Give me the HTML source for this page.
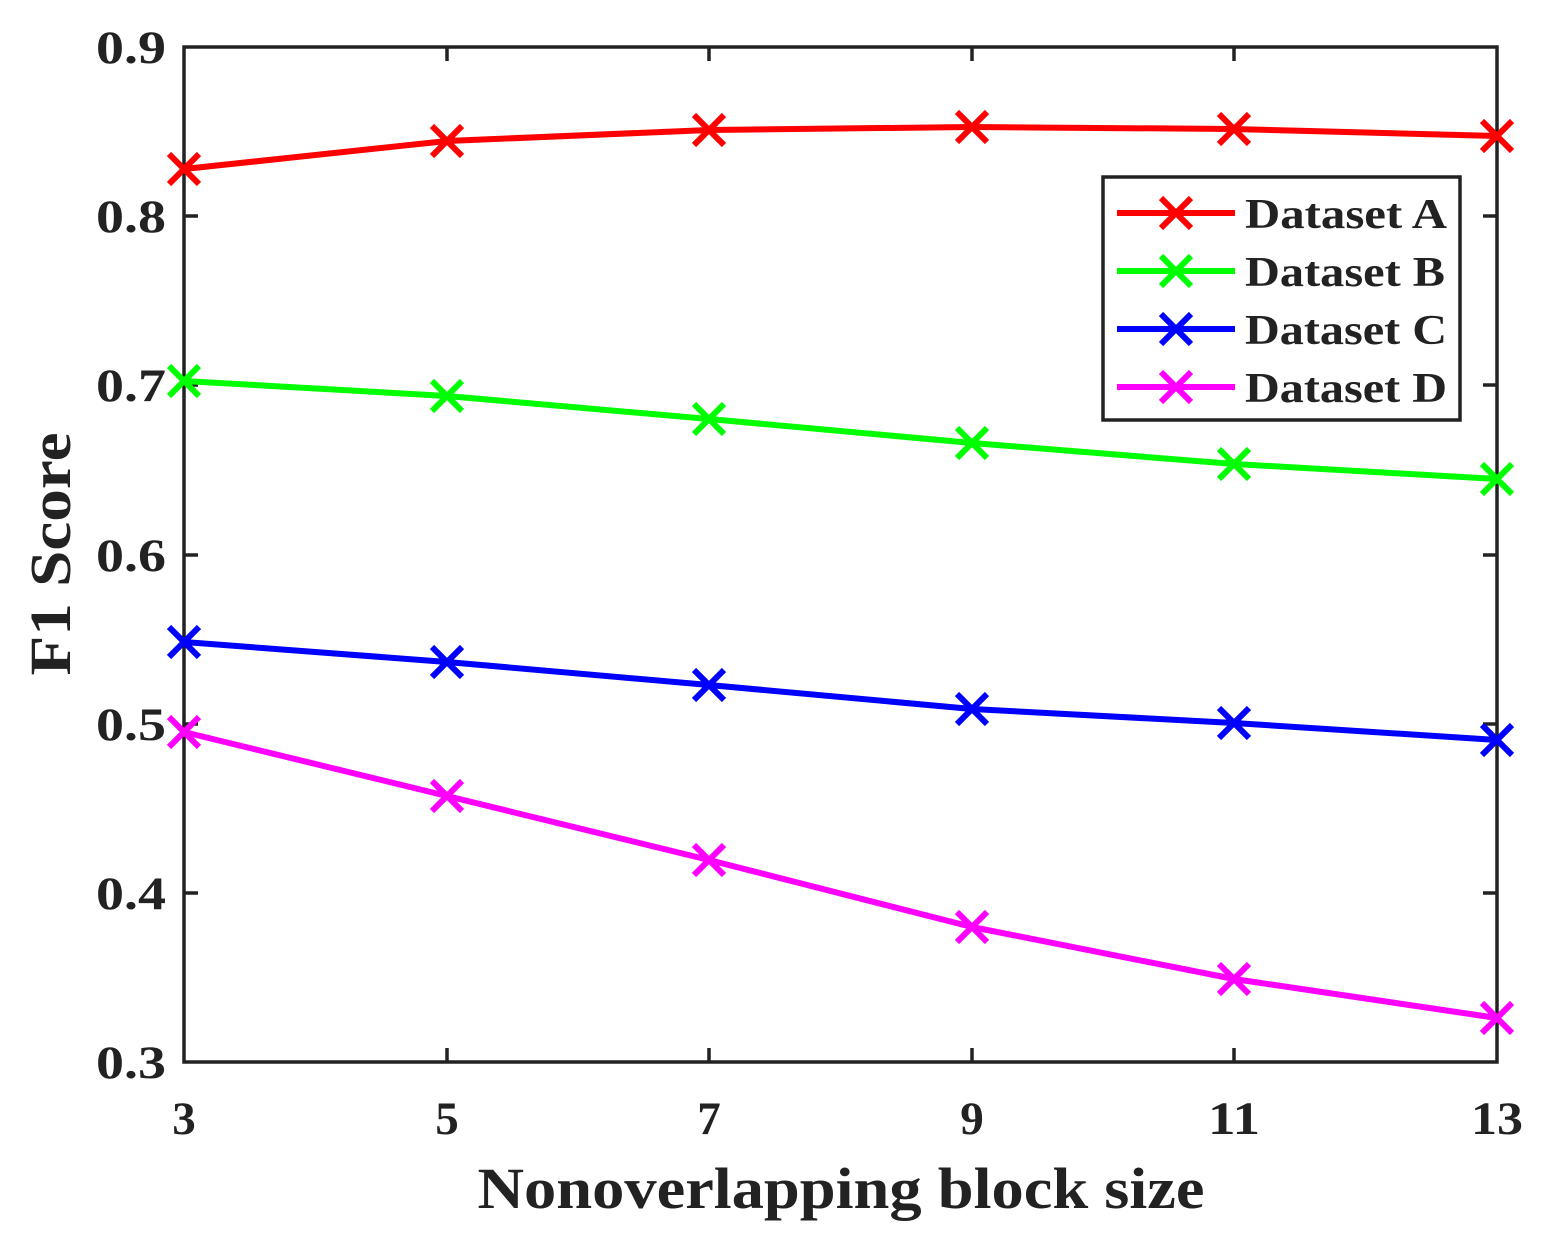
<!DOCTYPE html>
<html><head><meta charset="utf-8"><style>html,body{margin:0;padding:0;background:#fff}</style></head>
<body>
<svg width="1549" height="1251" viewBox="0 0 1549 1251" xmlns="http://www.w3.org/2000/svg" font-family="Liberation Serif, serif" font-weight="bold">
<defs>
<g id="m"><path d="M-15,-15L15,15M-15,15L15,-15" stroke-width="6" fill="none"/></g>
</defs>
<rect x="184" y="47" width="1313" height="1015" fill="#fff" stroke="#222" stroke-width="3.5"/>
<g stroke="#222" stroke-width="3.5">
<path d="M184,216h14M184,385h14M184,555h14M184,724h14M184,893h14"/>
<path d="M1497,216h-14M1497,385h-14M1497,555h-14M1497,724h-14M1497,893h-14"/>
<path d="M447,1062v-14M709,1062v-14M972,1062v-14M1234,1062v-14"/>
<path d="M447,47v14M709,47v14M972,47v14M1234,47v14"/>
</g>
<g font-size="47" fill="#222" text-anchor="end" lengthAdjust="spacingAndGlyphs">
<text x="166" y="63" textLength="70" lengthAdjust="spacingAndGlyphs">0.9</text><text x="166" y="232" textLength="70" lengthAdjust="spacingAndGlyphs">0.8</text><text x="166" y="401" textLength="70" lengthAdjust="spacingAndGlyphs">0.7</text><text x="166" y="571" textLength="70" lengthAdjust="spacingAndGlyphs">0.6</text><text x="166" y="740" textLength="70" lengthAdjust="spacingAndGlyphs">0.5</text><text x="166" y="909" textLength="70" lengthAdjust="spacingAndGlyphs">0.4</text><text x="166" y="1078" textLength="70" lengthAdjust="spacingAndGlyphs">0.3</text>
</g>
<g font-size="47" fill="#222" text-anchor="middle">
<text x="184" y="1134">3</text><text x="447" y="1134">5</text><text x="709" y="1134">7</text><text x="972" y="1134">9</text><text x="1234" y="1134" textLength="52" lengthAdjust="spacingAndGlyphs">11</text><text x="1497" y="1134" textLength="52" lengthAdjust="spacingAndGlyphs">13</text>
</g>
<text x="841" y="1208" font-size="58" fill="#222" text-anchor="middle" textLength="727" lengthAdjust="spacingAndGlyphs">Nonoverlapping block size</text>
<text transform="translate(70,554) rotate(-90)" font-size="58" fill="#222" text-anchor="middle" textLength="243" lengthAdjust="spacingAndGlyphs">F1 Score</text>
<g fill="none" stroke-width="6" stroke-linejoin="round">
<polyline stroke="#ff0000" points="184,169 447,141 709,130 972,127 1234,129 1497,136"/>
<polyline stroke="#00ff00" points="184,381 447,396 709,419 972,443 1234,464 1497,479"/>
<polyline stroke="#0000ff" points="184,642 447,662 709,685 972,709 1234,723 1497,740"/>
<polyline stroke="#ff00ff" points="184,732 447,796 709,860 972,927 1234,979 1497,1018"/>
</g>
<g stroke="#ff0000"><use href="#m" x="184" y="169"/><use href="#m" x="447" y="141"/><use href="#m" x="709" y="130"/><use href="#m" x="972" y="127"/><use href="#m" x="1234" y="129"/><use href="#m" x="1497" y="136"/></g>
<g stroke="#00ff00"><use href="#m" x="184" y="381"/><use href="#m" x="447" y="396"/><use href="#m" x="709" y="419"/><use href="#m" x="972" y="443"/><use href="#m" x="1234" y="464"/><use href="#m" x="1497" y="479"/></g>
<g stroke="#0000ff"><use href="#m" x="184" y="642"/><use href="#m" x="447" y="662"/><use href="#m" x="709" y="685"/><use href="#m" x="972" y="709"/><use href="#m" x="1234" y="723"/><use href="#m" x="1497" y="740"/></g>
<g stroke="#ff00ff"><use href="#m" x="184" y="732"/><use href="#m" x="447" y="796"/><use href="#m" x="709" y="860"/><use href="#m" x="972" y="927"/><use href="#m" x="1234" y="979"/><use href="#m" x="1497" y="1018"/></g>
<rect x="1103" y="177" width="357" height="243" fill="#fff" stroke="#222" stroke-width="3.5"/>
<g stroke-width="6">
<path d="M1117,213h118" stroke="#ff0000"/><use href="#m" x="1176" y="213" stroke="#ff0000"/>
<path d="M1117,271h118" stroke="#00ff00"/><use href="#m" x="1176" y="271" stroke="#00ff00"/>
<path d="M1117,329h118" stroke="#0000ff"/><use href="#m" x="1176" y="329" stroke="#0000ff"/>
<path d="M1117,387h118" stroke="#ff00ff"/><use href="#m" x="1176" y="387" stroke="#ff00ff"/>
</g>
<g font-size="42" fill="#222">
<text x="1245" y="228" textLength="202" lengthAdjust="spacingAndGlyphs">Dataset A</text><text x="1245" y="286" textLength="200" lengthAdjust="spacingAndGlyphs">Dataset B</text><text x="1245" y="344" textLength="202" lengthAdjust="spacingAndGlyphs">Dataset C</text><text x="1245" y="402" textLength="202" lengthAdjust="spacingAndGlyphs">Dataset D</text>
</g>
</svg>
</body></html>
